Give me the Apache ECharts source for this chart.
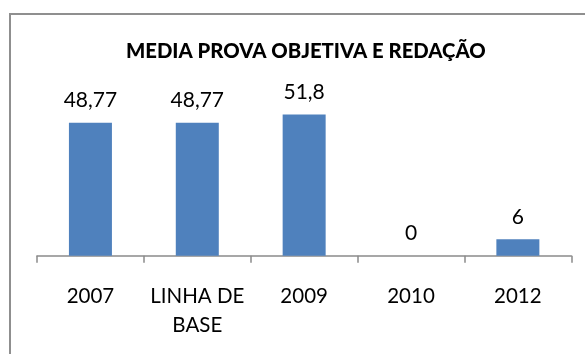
<!DOCTYPE html>
<html>
<head>
<meta charset="utf-8">
<script src="https://cdn.jsdelivr.net/npm/echarts@6/dist/echarts.min.js"></script>
<style>
  html, body { margin: 0; padding: 0; background: #fff; }
  #chart { width: 585px; height: 354px; }
</style>
</head>
<body>
<div id="chart"></div>
<script>
// Categories and values of the chart
var categories = ['2007', 'LINHA DE\nBASE', '2009', '2010', '2012'];
var values = [48.77, 48.77, 51.8, 0, 6];
var valueLabels = ['48,77', '48,77', '51,8', '0', '6'];
var titleText = 'MEDIA PROVA OBJETIVA E REDAÇÃO';

var FONT = 'Lato';
var chart = echarts.init(document.getElementById('chart'), null, { renderer: 'canvas' });

chart.setOption({
  backgroundColor: '#ffffff',
  animation: false,
  title: {
    text: titleText,
    left: 121,
    top: 36,
    textStyle: { fontFamily: FONT, fontWeight: 900, fontSize: 20.3, color: '#000000' }
  },
  graphic: [{
    type: 'rect',
    shape: { x: 10, y: 14, width: 620, height: 400 },
    style: { fill: 'none', stroke: '#8f8f8f', lineWidth: 2 },
    silent: true
  }],
  grid: { left: 37, right: 13.7, top: 92.1, bottom: 98.3 },
  xAxis: {
    type: 'category',
    data: categories,
    axisLine: { show: true, lineStyle: { color: '#8a8a8a', width: 1.5 } },
    axisTick: { show: true, alignWithLabel: false, inside: false, length: 7, lineStyle: { color: '#8a8a8a', width: 1.5 } },
    axisLabel: {
      fontFamily: FONT, fontSize: 20.5, color: '#000000', margin: 26,
      lineHeight: 29, interval: 0
    }
  },
  yAxis: {
    type: 'value',
    min: 0, max: 60,
    show: false,
    splitLine: { show: false }
  },
  series: [{
    type: 'bar',
    data: values,
    barWidth: 43,
    itemStyle: { color: '#4f81bd' },
    label: {
      show: true,
      position: 'top',
      distance: 12,
      fontFamily: FONT, fontSize: 21, color: '#000000',
      formatter: function (p) { return valueLabels[p.dataIndex]; }
    }
  }]
});
</script>
</body>
</html>
